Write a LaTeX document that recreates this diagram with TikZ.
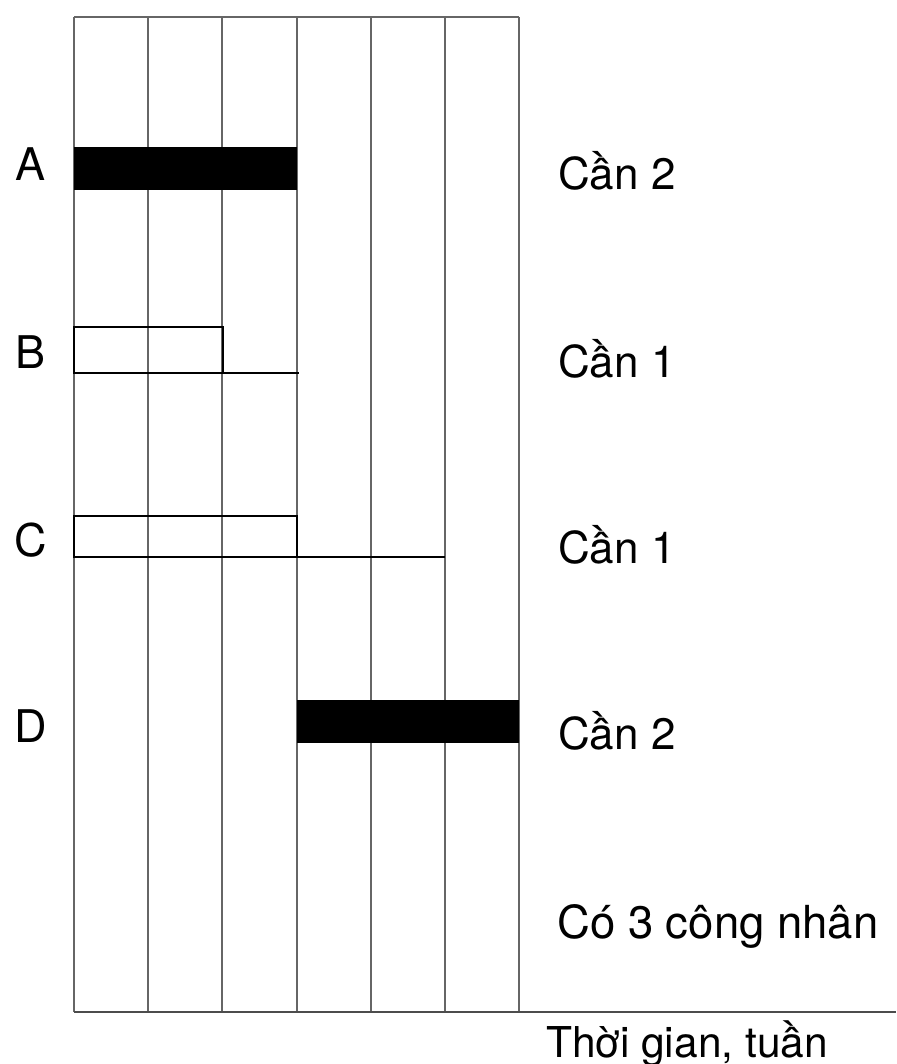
\documentclass[tikz,border=0pt]{standalone}
\usepackage{fontspec}
\setmainfont{TeX Gyre Heros}
\begin{document}
\begin{tikzpicture}[x=1pt,y=-1pt,
  gridline/.style={draw=black!60,line width=1.4pt},
  axisline/.style={draw=black!70,line width=1.6pt},
  barbox/.style={draw=black,line width=2pt},
  lbl/.style={anchor=base west,inner sep=0pt,font=\fontsize{44}{48}\selectfont},
  rowlbl/.style={anchor=base west,inner sep=0pt,font=\fontsize{45}{48}\selectfont}]
\useasboundingbox[fill=white] (0,0) rectangle (896,1064);
% grid
\foreach \x in {74,148,222,297,371,445,519}{
  \draw[gridline] (\x,17) -- (\x,1012);
}
\draw[gridline] (74,17) -- (519,17);
\draw[axisline] (74,1012) -- (896,1012);
% bars
\fill[black] (74,147) rectangle (297,190);
\draw[barbox] (74,327) rectangle (223,373);
\draw[barbox] (223,373) -- (299,373);
\draw[barbox] (74,516) rectangle (297,557);
\draw[barbox] (297,557) -- (445,557);
\fill[black] (297,700) rectangle (519,743);
% row labels
\node[rowlbl] (la) at (15,181) {A};
\node[rowlbl] (lb) at (15,368) {B};
\node[rowlbl] (lc) at (14,556) {C};
\node[rowlbl] (ld) at (14,742) {D};
% right labels
\node[lbl] (ra) at (558,190) {Cần 2};
\node[lbl] (rb) at (558,377) {Cần 1};
\node[lbl] (rc) at (558,563) {Cần 1};
\node[lbl] (rd) at (558,749) {Cần 2};
\node[lbl,font=\fontsize{45.5}{48}\selectfont] (re) at (557,938) {Có 3 công nhân};
\node[lbl,font=\fontsize{42.5}{48}\selectfont] (rf) at (546,1057) {Thời gian, tuần};
\end{tikzpicture}
\end{document}
